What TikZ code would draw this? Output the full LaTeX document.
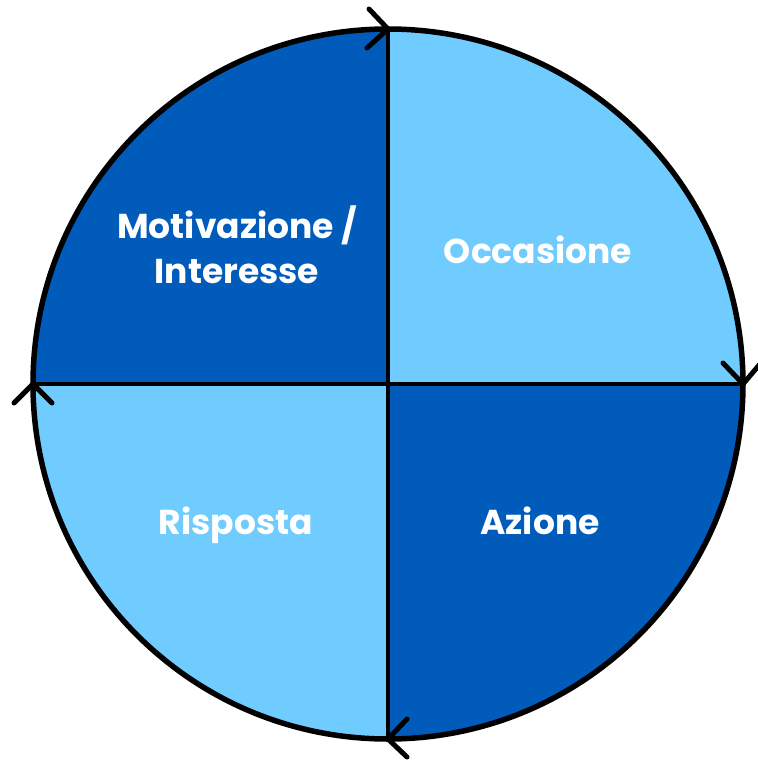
\documentclass[tikz,border=0pt]{standalone}
\usepackage{fontspec}
\setmainfont{Poppins}[BoldFont={Poppins Bold}]
\definecolor{darkq}{RGB}{0,91,187}
\definecolor{lightq}{RGB}{112,204,255}
\begin{document}
\begin{tikzpicture}[x=1pt,y=-1pt,
  outline/.style={line width=5.5pt, draw=black},
  chev/.style={line width=5pt, line cap=round, line join=round},
  lbl/.style={text=white, font=\fontsize{34.5}{45}\selectfont\bfseries, anchor=base, align=center, inner sep=0pt}]
\useasboundingbox (0,0) rectangle (758,761);
\coordinate (c) at (388,384);
\def\R{355}
% quadrants
\begin{scope}
\clip (c) circle[radius=\R];
\fill[darkq] (c) rectangle (0,0);
\fill[lightq] (c) rectangle (758,0);
\fill[darkq] (c) rectangle (758,761);
\fill[lightq] (c) rectangle (0,761);
\end{scope}
% circle and dividers
\coordinate (t) at (388,29);
\coordinate (b) at (388,739);
\coordinate (l) at (33,384);
\coordinate (r) at (743,384);
\draw[outline] (c) circle[radius=\R];
\draw[line width=4pt] (t) -- (b);
\draw[line width=4pt] (l) -- (r);
% chevrons (clockwise)
\draw[chev] (369,9) -- (t) -- (367,48);
\draw[chev] (723,363) -- (r) -- (760,364);
\draw[chev] (14,403) -- (l) -- (52,403);
\draw[chev] (407,719) -- (b) -- (407,757);
% labels
\node[lbl] (m) at (237,283) {Motivazione /\\Interesse};
\node[lbl] (o) at (538,263) {Occasione};
\node[lbl] (rs) at (236,534) {Risposta};
\node[lbl] (a) at (540,534) {Azione};
\end{tikzpicture}
\end{document}
